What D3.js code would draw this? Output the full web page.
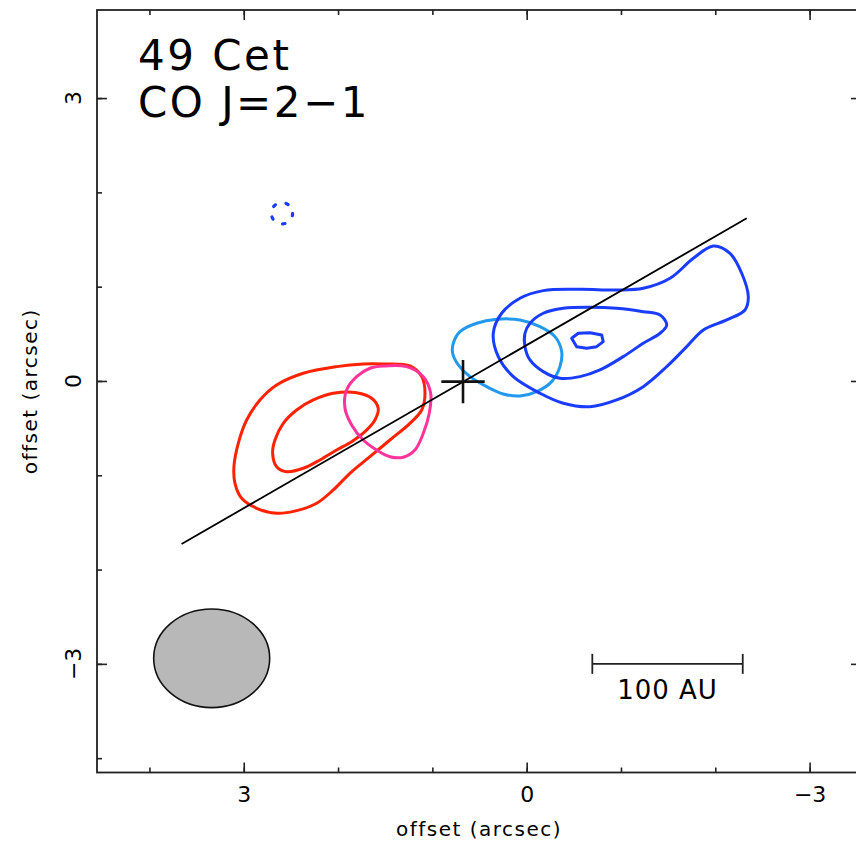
<!DOCTYPE html>
<html><head><meta charset="utf-8">
<script src="https://cdn.jsdelivr.net/npm/d3@7/dist/d3.min.js"></script>
<style>body{margin:0;background:#fff}svg{display:block}</style>
</head><body>
<script>
// ---- data (arcsec offsets) ----
const titleLines = ["49 Cet", "CO J=2\u22121"];
const majorTicks = [3, 0, -3];
const majorLabels = ["3", "0", "\u22123"];
const minorTicksX = [4, 3, 2, 1, 0, -1, -2, -3];
const minorTicksY = [3, 2, 1, 0, -1, -2, -3, -4];
const axisLabel = "offset (arcsec)";

const redOuter = [[1.521,0.180],[1.238,0.159],[1.113,0.046],[1.078,-0.130],[1.113,-0.308],[1.238,-0.449],[1.450,-0.626],[1.662,-0.803],[1.874,-0.979],[2.051,-1.156],[2.227,-1.297],[2.439,-1.375],[2.651,-1.403],[2.863,-1.350],[3.022,-1.244],[3.093,-1.085],[3.104,-0.909],[3.058,-0.661],[2.969,-0.414],[2.828,-0.201],[2.651,-0.042],[2.369,0.082],[2.015,0.152],[1.733,0.180]];
const redInner = [[1.803,-0.124],[1.644,-0.183],[1.574,-0.290],[1.609,-0.414],[1.715,-0.538],[1.856,-0.644],[2.015,-0.732],[2.192,-0.838],[2.369,-0.926],[2.545,-0.962],[2.651,-0.909],[2.694,-0.767],[2.669,-0.626],[2.581,-0.449],[2.439,-0.308],[2.263,-0.201],[2.051,-0.130]];
const pinkContour = [[1.521,0.159],[1.273,0.152],[1.096,0.046],[1.018,-0.130],[1.033,-0.343],[1.096,-0.555],[1.185,-0.732],[1.309,-0.809],[1.450,-0.803],[1.591,-0.732],[1.733,-0.626],[1.856,-0.467],[1.927,-0.290],[1.909,-0.095],[1.803,0.046],[1.662,0.135]];
const lightBlueContour = [[0.778,0.400],[0.707,0.523],[0.530,0.612],[0.318,0.654],[0.071,0.647],[-0.141,0.576],[-0.300,0.470],[-0.371,0.311],[-0.353,0.152],[-0.265,-0.007],[-0.106,-0.113],[0.071,-0.159],[0.248,-0.138],[0.424,-0.060],[0.601,0.046],[0.725,0.170],[0.785,0.294]];
const blueOuter = [[0.354,0.506],[0.265,0.718],[0.071,0.877],[-0.176,0.958],[-0.565,0.972],[-0.954,0.965],[-1.236,0.983],[-1.520,1.089],[-1.767,1.301],[-1.979,1.432],[-2.156,1.354],[-2.280,1.142],[-2.350,0.894],[-2.315,0.753],[-2.121,0.647],[-1.873,0.541],[-1.697,0.364],[-1.485,0.152],[-1.236,-0.060],[-0.954,-0.201],[-0.671,-0.273],[-0.388,-0.236],[-0.141,-0.130],[0.142,0.046],[0.301,0.258]];
const blueMiddle = [[0.018,0.506],[-0.035,0.612],[-0.176,0.718],[-0.388,0.771],[-0.671,0.782],[-0.954,0.771],[-1.236,0.735],[-1.414,0.700],[-1.485,0.594],[-1.414,0.506],[-1.236,0.400],[-1.024,0.258],[-0.777,0.117],[-0.565,0.046],[-0.353,0.029],[-0.176,0.099],[-0.035,0.223],[0.018,0.364]];
const blueInner = [[-0.477,0.453],[-0.547,0.506],[-0.671,0.512],[-0.795,0.488],[-0.812,0.417],[-0.742,0.364],[-0.636,0.347],[-0.530,0.364]];
const dottedCircle = {cx: 2.595, cy: 1.778, r: 0.113};
const diskAxis = [[3.659,-1.729],[-2.333,1.725]];
const starPos = [0.675, -0.007];
const starArm = 0.23;
const beam = {cx: 3.340, cy: -2.941, rx: 0.615, ry: 0.523};
const scaleBar = {x1: -0.696, x2: -2.291, y: -3.0, cap: 0.106, label: "100 AU"};

const colors = {red: "#ff2200", pink: "#ff3399", lightBlue: "#2299ee", blue: "#1a3cff"};

// ---- drawing ----
const W = 856, H = 845;
const svg = d3.select("body").append("svg").attr("width", W).attr("height", H);
const x = d3.scaleLinear().domain([4.556, -3.545]).range([97, 861]);
const y = d3.scaleLinear().domain([3.934, -4.152]).range([10, 772.5]);
const font = "'DejaVu Sans', sans-serif";

const closedSmooth = d3.line().x(d => x(d[0])).y(d => y(d[1])).curve(d3.curveCatmullRomClosed.alpha(0.5));
const closedLinear = d3.line().x(d => x(d[0])).y(d => y(d[1])).curve(d3.curveLinearClosed);
const openLine = d3.line().x(d => x(d[0])).y(d => y(d[1]));

// beam
svg.append("ellipse")
  .attr("cx", x(beam.cx)).attr("cy", y(beam.cy))
  .attr("rx", Math.abs(x(beam.cx + beam.rx) - x(beam.cx)))
  .attr("ry", Math.abs(y(beam.cy + beam.ry) - y(beam.cy)))
  .attr("fill", "#b8b8b8").attr("stroke", "#111").attr("stroke-width", 1.6);

// contours
const contours = [
  {d: redOuter, c: colors.red, curve: closedSmooth},
  {d: redInner, c: colors.red, curve: closedSmooth},
  {d: pinkContour, c: colors.pink, curve: closedSmooth},
  {d: lightBlueContour, c: colors.lightBlue, curve: closedSmooth},
  {d: blueOuter, c: colors.blue, curve: closedSmooth},
  {d: blueMiddle, c: colors.blue, curve: closedSmooth},
  {d: blueInner, c: colors.blue, curve: closedLinear}
];
svg.append("g").selectAll("path").data(contours).join("path")
  .attr("d", d => d.curve(d.d))
  .attr("fill", "none").attr("stroke", d => d.c)
  .attr("stroke-width", 3).attr("stroke-linejoin", "round");

// dotted circle
svg.append("circle")
  .attr("cx", x(dottedCircle.cx)).attr("cy", y(dottedCircle.cy))
  .attr("r", Math.abs(x(dottedCircle.cx + dottedCircle.r) - x(dottedCircle.cx)))
  .attr("fill", "none").attr("stroke", colors.blue).attr("stroke-width", 3.2)
  .attr("stroke-linecap", "round").attr("stroke-dasharray", "2.5 11");

// disk axis line
svg.append("path").attr("d", openLine(diskAxis))
  .attr("fill", "none").attr("stroke", "#000").attr("stroke-width", 1.8);

// star cross
svg.append("path")
  .attr("d", openLine([[starPos[0] + starArm, starPos[1]], [starPos[0] - starArm, starPos[1]]]) +
             openLine([[starPos[0], starPos[1] + starArm], [starPos[0], starPos[1] - starArm]]))
  .attr("fill", "none").attr("stroke", "#111").attr("stroke-width", 2.6);

// scale bar
const sb = svg.append("g").attr("stroke", "#222").attr("stroke-width", 1.8).attr("fill", "none");
sb.append("path").attr("d", openLine([[scaleBar.x1, scaleBar.y], [scaleBar.x2, scaleBar.y]]));
sb.append("path").attr("d", openLine([[scaleBar.x1, scaleBar.y + scaleBar.cap], [scaleBar.x1, scaleBar.y - scaleBar.cap]]));
sb.append("path").attr("d", openLine([[scaleBar.x2, scaleBar.y + scaleBar.cap], [scaleBar.x2, scaleBar.y - scaleBar.cap]]));
svg.append("text").attr("x", x((scaleBar.x1 + scaleBar.x2) / 2)).attr("y", y(scaleBar.y) + 35)
  .attr("text-anchor", "middle").attr("font-family", font).attr("font-size", 26)
  .attr("letter-spacing", 1).text(scaleBar.label);

// axes (ticks inside)
function styleAxis(g) {
  g.select(".domain").remove();
  g.selectAll(".tick line").attr("stroke", "#222").attr("stroke-width", 1.6);
}
const [x0, x1] = x.range(), [y0, y1] = y.range();
svg.append("g").attr("transform", `translate(0,${y1})`)
  .call(d3.axisBottom(x).tickValues(minorTicksX).tickSize(-5).tickFormat("")).call(styleAxis);
svg.append("g").attr("transform", `translate(0,${y1})`)
  .call(d3.axisBottom(x).tickValues(majorTicks).tickSize(-10).tickPadding(14).tickFormat((d, i) => majorLabels[i]))
  .call(styleAxis)
  .call(g => g.selectAll("text").attr("font-family", font).attr("font-size", 22).attr("fill", "#000"));
svg.append("g").attr("transform", `translate(0,${y0})`)
  .call(d3.axisTop(x).tickValues(minorTicksX).tickSize(-5).tickFormat("")).call(styleAxis);
svg.append("g").attr("transform", `translate(0,${y0})`)
  .call(d3.axisTop(x).tickValues(majorTicks).tickSize(-10).tickFormat("")).call(styleAxis);
svg.append("g").attr("transform", `translate(${x0},0)`)
  .call(d3.axisLeft(y).tickValues(minorTicksY).tickSize(-5).tickFormat("")).call(styleAxis);
svg.append("g").attr("transform", `translate(${x0},0)`)
  .call(d3.axisLeft(y).tickValues(majorTicks).tickSize(-10).tickFormat("")).call(styleAxis);
svg.append("g").attr("transform", `translate(${x1},0)`)
  .call(d3.axisRight(y).tickValues(minorTicksY).tickSize(-5).tickFormat("")).call(styleAxis);
svg.append("g").attr("transform", `translate(${x1},0)`)
  .call(d3.axisRight(y).tickValues(majorTicks).tickSize(-10).tickFormat("")).call(styleAxis);

// rotated left tick labels
svg.append("g").selectAll("text").data(majorTicks).join("text")
  .attr("transform", d => `translate(${x0 - 16},${y(d)}) rotate(-90)`)
  .attr("text-anchor", "middle").attr("font-family", font).attr("font-size", 22)
  .text((d, i) => majorLabels[i]);

// frame
svg.append("rect").attr("x", x0).attr("y", y0).attr("width", x1 - x0).attr("height", y1 - y0)
  .attr("fill", "none").attr("stroke", "#222").attr("stroke-width", 1.8);

// axis labels
svg.append("text").attr("x", (x0 + x1) / 2).attr("y", 836)
  .attr("text-anchor", "middle").attr("font-family", font).attr("font-size", 20)
  .attr("letter-spacing", 1.5).text(axisLabel);
svg.append("text").attr("transform", `translate(37,${(y0 + y1) / 2}) rotate(-90)`)
  .attr("text-anchor", "middle").attr("font-family", font).attr("font-size", 20)
  .attr("letter-spacing", 1.5).text(axisLabel);

// title
svg.append("g").selectAll("text").data(titleLines).join("text")
  .attr("x", 138).attr("y", (d, i) => 70 + i * 47)
  .attr("font-family", font).attr("font-size", 42).attr("letter-spacing", 2.5)
  .text(d => d);
</script>
</body></html>
